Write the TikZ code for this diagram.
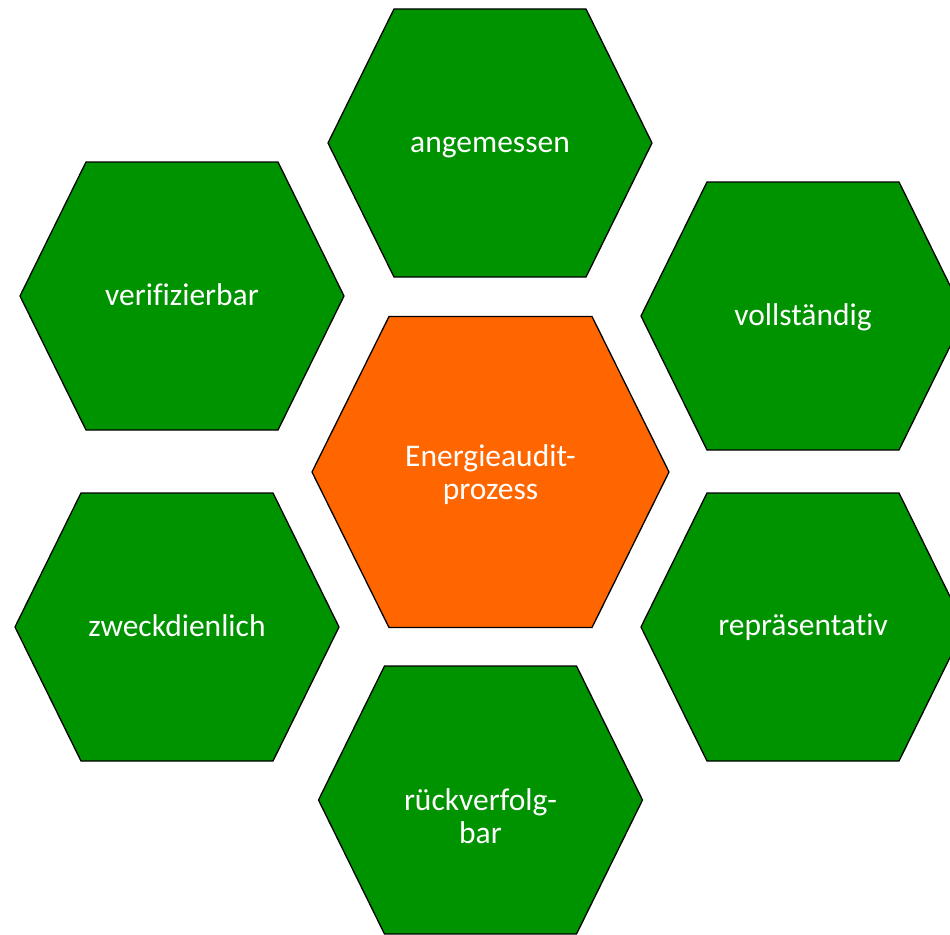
\documentclass[tikz,border=0pt]{standalone}
\usepackage{fontspec}
\setmainfont{Carlito}[Ligatures={NoCommon}]
\definecolor{hexgreen}{RGB}{0,147,0}
\definecolor{hexorange}{RGB}{255,102,0}
\tikzset{
  greenhex/.style={fill=hexgreen,draw=black,line width=1.3pt,line join=miter},
  orangehex/.style={fill=hexorange,draw=black,line width=1.3pt,line join=miter},
  lbl/.style={text=white,align=center,inner sep=0pt,anchor=base,font=\fontsize{31.5}{33}\selectfont}
}
% #1 name, #2 cx, #3 cy, #4 half width, #5 half top edge, #6 half height, #7 style, #8 baseline of last text line, #9 text
\newcommand\hexnode[9]{%
  \path[#7] (#2-#4,#3) -- (#2-#5,#3-#6) -- (#2+#5,#3-#6) -- (#2+#4,#3)
     -- (#2+#5,#3+#6) -- (#2-#5,#3+#6) -- cycle;
  \node[lbl] (#1) at (#2,#8) {#9};}
\begin{document}
\begin{tikzpicture}[x=1pt,y=-1pt]
\useasboundingbox (0,0) rectangle (950,934);
\clip (0,0) rectangle (950,934);
\hexnode{top}{490}{143}{162}{96}{134}{greenhex}{152}{angemessen}
\hexnode{ul}{182}{296}{162}{96}{134}{greenhex}{305}{verifizierbar}
\hexnode{ur}{803}{316}{162}{96}{134}{greenhex}{325}{vollständig}
\hexnode{center}{490.5}{472}{178.5}{101.5}{155.5}{orangehex}{499}{Energieaudit-\\prozess}
\hexnode{ll}{177}{627}{162}{96}{134}{greenhex}{636}{zweckdienlich}
\hexnode{lr}{803}{627}{162}{96}{134}{greenhex}{635}{repräsentativ}
\hexnode{bottom}{480.5}{800}{162}{96}{134}{greenhex}{843}{rückverfolg-\\bar}
\end{tikzpicture}
\end{document}
